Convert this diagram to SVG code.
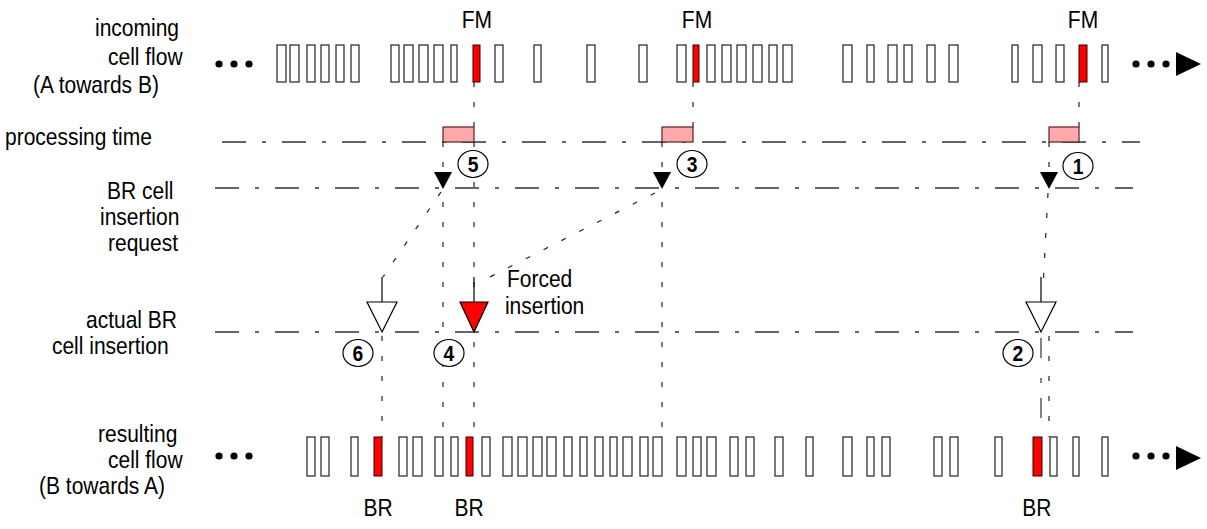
<svg xmlns="http://www.w3.org/2000/svg" width="1207" height="529" viewBox="0 0 1207 529">
<style>
text{font-family:"Liberation Sans",Arial,sans-serif;font-size:24px;fill:#000}
.mid{text-anchor:middle}
.num{font-weight:bold;font-size:22px;text-anchor:middle}
.cell{fill:#fff;stroke:#222;stroke-width:1.2}
.red{fill:#f00;stroke:#300;stroke-width:1}
.proc{fill:#ffaaaa;stroke:#5a1f1f;stroke-width:1.2}
.hl{fill:none;stroke:#333;stroke-width:1.3;stroke-dasharray:24 16 4 16}
.vd{fill:none;stroke:#222;stroke-width:1.2;stroke-dasharray:5 15}
.dd{fill:none;stroke:#333;stroke-width:1.2;stroke-dasharray:20 20 5 15}
.stem{fill:none;stroke:#000;stroke-width:1.2}
.circ{fill:#fff;stroke:#000;stroke-width:1.2}
.dot{fill:#000}
.tri{stroke:#000;stroke-width:1.2}
</style>
<defs>
<g id="dots"><circle cx="0" cy="0" r="3.6"/><circle cx="15" cy="0" r="3.6"/><circle cx="30" cy="0" r="3.6"/></g>
</defs>

<g id="labels" transform="scale(0.875,1)">
<text x="108.6" y="36">incoming</text>
<text x="123.4" y="65">cell flow</text>
<text x="37.7" y="93">(A towards B)</text>
<text x="5.7" y="145">processing time</text>
<text x="122.3" y="199">BR cell</text>
<text x="114.3" y="225">insertion</text>
<text x="123.4" y="251">request</text>
<text x="98.3" y="328">actual BR</text>
<text x="59.4" y="354">cell insertion</text>
<text x="112" y="442">resulting</text>
<text x="123.4" y="468">cell flow</text>
<text x="44.6" y="494">(B towards A)</text>
<text class="mid" x="545.1" y="28">FM</text>
<text class="mid" x="796.6" y="28">FM</text>
<text class="mid" x="1237.7" y="28">FM</text>
<text class="mid" x="432" y="516">BR</text>
<text class="mid" x="536" y="516">BR</text>
<text class="mid" x="1185.1" y="516">BR</text>
<text x="579.4" y="287">Forced</text>
<text x="577.1" y="314">insertion</text>
</g>

<g id="connectors">
<line class="hl" x1="222" y1="142" x2="1140" y2="142"/>
<line class="hl" x1="215" y1="188" x2="1133" y2="188"/>
<line class="hl" x1="215" y1="332" x2="1133" y2="332"/>
<line class="vd" x1="474" y1="82" x2="474" y2="437"/>
<line class="vd" x1="693" y1="82" x2="693" y2="127"/>
<line class="vd" x1="1079" y1="82" x2="1079" y2="127"/>
<line class="vd" x1="443" y1="142" x2="443" y2="437"/>
<line class="vd" x1="662" y1="142" x2="662" y2="437"/>
<line class="vd" x1="1049" y1="142" x2="1049" y2="189"/>
<line class="vd" x1="441" y1="192" x2="383" y2="277"/>
<line class="vd" x1="655" y1="193" x2="480" y2="282"/>
<line class="vd" x1="1048" y1="193" x2="1043" y2="288"/>
<line class="vd" x1="382" y1="336" x2="382" y2="437"/>
<line class="vd" x1="1049" y1="336" x2="1049" y2="437"/>
<line class="dd" x1="1041" y1="338" x2="1041" y2="437"/>
<line class="stem" x1="382" y1="277" x2="382" y2="302"/>
<line class="stem" x1="474" y1="277" x2="474" y2="302"/>
<line class="stem" x1="1041" y1="277" x2="1041" y2="302"/>
</g>

<g id="incoming-flow">
<use href="#dots" x="219" y="64"/>
<use href="#dots" x="1136" y="64"/>
<polygon class="dot" points="1176,52 1176,76 1201,64"/>
<rect class="cell" x="277" y="45" width="9" height="37"/>
<rect class="cell" x="290" y="45" width="9" height="37"/>
<rect class="cell" x="307" y="45" width="8" height="37"/>
<rect class="cell" x="321" y="45" width="8" height="37"/>
<rect class="cell" x="336" y="45" width="8" height="37"/>
<rect class="cell" x="351" y="45" width="8" height="37"/>
<rect class="cell" x="391" y="45" width="8" height="37"/>
<rect class="cell" x="404" y="45" width="9" height="37"/>
<rect class="cell" x="419" y="45" width="9" height="37"/>
<rect class="cell" x="434" y="45" width="9" height="37"/>
<rect class="cell" x="451" y="45" width="6" height="37"/>
<rect class="red" x="473" y="45" width="7" height="37"/>
<rect class="cell" x="495" y="45" width="8" height="37"/>
<rect class="cell" x="534" y="45" width="7" height="37"/>
<rect class="cell" x="587" y="45" width="8" height="37"/>
<rect class="cell" x="639" y="45" width="8" height="37"/>
<rect class="cell" x="677" y="45" width="9" height="37"/>
<rect class="red" x="693" y="45" width="6" height="37"/>
<rect class="cell" x="707" y="45" width="8" height="37"/>
<rect class="cell" x="722" y="45" width="9" height="37"/>
<rect class="cell" x="737" y="45" width="9" height="37"/>
<rect class="cell" x="753" y="45" width="9" height="37"/>
<rect class="cell" x="769" y="45" width="8" height="37"/>
<rect class="cell" x="783" y="45" width="9" height="37"/>
<rect class="cell" x="843" y="45" width="9" height="37"/>
<rect class="cell" x="867" y="45" width="7" height="37"/>
<rect class="cell" x="888" y="45" width="9" height="37"/>
<rect class="cell" x="904" y="45" width="8" height="37"/>
<rect class="cell" x="927" y="45" width="8" height="37"/>
<rect class="cell" x="949" y="45" width="9" height="37"/>
<rect class="cell" x="1012" y="45" width="6" height="37"/>
<rect class="cell" x="1033" y="45" width="9" height="37"/>
<rect class="cell" x="1056" y="45" width="8" height="37"/>
<rect class="red" x="1079" y="45" width="8" height="37"/>
<rect class="cell" x="1102" y="45" width="6" height="37"/>
</g>

<g id="processing">
<rect class="proc" x="443" y="127" width="31" height="15"/>
<rect class="proc" x="662" y="127" width="31" height="15"/>
<rect class="proc" x="1049" y="127" width="30" height="15"/>
</g>

<g id="requests">
<polygon class="dot" points="434,172 452,172 443,189"/>
<polygon class="dot" points="653,172 671,172 662,189"/>
<polygon class="dot" points="1040,172 1058,172 1049,189"/>
</g>

<g id="insertions">
<polygon class="tri" points="367,302 397,302 382,332" fill="#fff"/>
<polygon class="tri" points="460,302 488,302 474,332" fill="#f00"/>
<polygon class="tri" points="1026,302 1056,302 1041,332" fill="#fff"/>
</g>

<g id="steps">
<ellipse class="circ" cx="1078" cy="166" rx="15" ry="13.5"/>
<ellipse class="circ" cx="1018" cy="353" rx="15" ry="13.5"/>
<ellipse class="circ" cx="692" cy="164" rx="15" ry="13.5"/>
<ellipse class="circ" cx="449" cy="353" rx="15" ry="13.5"/>
<ellipse class="circ" cx="473" cy="164" rx="15" ry="13.5"/>
<ellipse class="circ" cx="358" cy="353" rx="15" ry="13.5"/>
<g transform="scale(0.875,1)">
<text class="num" x="1232" y="174">1</text>
<text class="num" x="1163.4" y="361">2</text>
<text class="num" x="790.9" y="172">3</text>
<text class="num" x="513.1" y="361">4</text>
<text class="num" x="540.6" y="172">5</text>
<text class="num" x="409.1" y="361">6</text>
</g>
</g>

<g id="resulting-flow">
<use href="#dots" x="219" y="456"/>
<use href="#dots" x="1136" y="456"/>
<polygon class="dot" points="1176,446 1176,470 1201,458"/>
<rect class="cell" x="307" y="437" width="8" height="39"/>
<rect class="cell" x="321" y="437" width="8" height="39"/>
<rect class="cell" x="351" y="437" width="7" height="39"/>
<rect class="red" x="374" y="437" width="8" height="39"/>
<rect class="cell" x="399" y="437" width="8" height="39"/>
<rect class="cell" x="413" y="437" width="9" height="39"/>
<rect class="cell" x="435" y="437" width="8" height="39"/>
<rect class="cell" x="451" y="437" width="7" height="39"/>
<rect class="red" x="466" y="437" width="7" height="39"/>
<rect class="cell" x="482" y="437" width="8" height="39"/>
<rect class="cell" x="503" y="437" width="9" height="39"/>
<rect class="cell" x="518" y="437" width="9" height="39"/>
<rect class="cell" x="533" y="437" width="9" height="39"/>
<rect class="cell" x="547" y="437" width="9" height="39"/>
<rect class="cell" x="564" y="437" width="8" height="39"/>
<rect class="cell" x="580" y="437" width="7" height="39"/>
<rect class="cell" x="595" y="437" width="8" height="39"/>
<rect class="cell" x="610" y="437" width="7" height="39"/>
<rect class="cell" x="623" y="437" width="9" height="39"/>
<rect class="cell" x="640" y="437" width="8" height="39"/>
<rect class="cell" x="653" y="437" width="9" height="39"/>
<rect class="cell" x="677" y="437" width="9" height="39"/>
<rect class="cell" x="693" y="437" width="8" height="39"/>
<rect class="cell" x="707" y="437" width="9" height="39"/>
<rect class="cell" x="730" y="437" width="8" height="39"/>
<rect class="cell" x="746" y="437" width="8" height="39"/>
<rect class="cell" x="775" y="437" width="8" height="39"/>
<rect class="cell" x="806" y="437" width="7" height="39"/>
<rect class="cell" x="843" y="437" width="9" height="39"/>
<rect class="cell" x="867" y="437" width="7" height="39"/>
<rect class="cell" x="882" y="437" width="8" height="39"/>
<rect class="cell" x="934" y="437" width="8" height="39"/>
<rect class="cell" x="950" y="437" width="8" height="39"/>
<rect class="cell" x="995" y="437" width="7" height="39"/>
<rect class="red" x="1033" y="437" width="9" height="39"/>
<rect class="cell" x="1050" y="437" width="7" height="39"/>
<rect class="cell" x="1073" y="437" width="6" height="39"/>
<rect class="cell" x="1102" y="437" width="6" height="39"/>
</g>
</svg>
